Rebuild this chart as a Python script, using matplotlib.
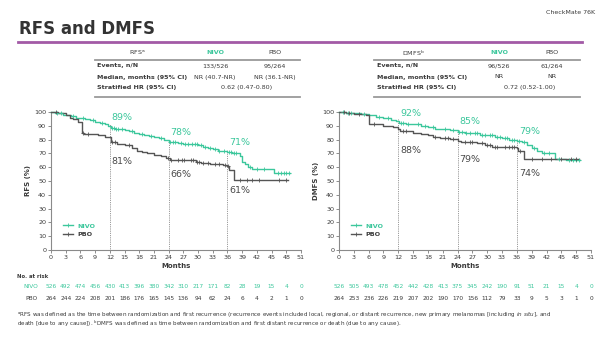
import numpy as np
import matplotlib
matplotlib.use("Agg")
import matplotlib.pyplot as plt
from matplotlib.lines import Line2D
from matplotlib.transforms import blended_transform_factory

plt.rcParams['font.family'] = ['DejaVu Sans']

GREEN = '#3cc79c'
GRAY = '#555555'
TXT = '#3a3a3a'

# ---------------- data ----------------
months = list(range(0, 52, 3))

rfs_nivo_t = [0, 0.8, 1.5, 2.5, 3.2, 4.0, 5.0, 6.0, 7.0, 8.0, 9.0, 10.0, 11.0, 11.6, 12.2, 13.0, 14.0,
              15.0, 16.0, 17.0, 18.0, 19.0, 20.0, 21.0, 22.0, 23.0, 24.0, 25.0, 26.0, 27.0, 28.5, 30.0,
              31.0, 32.0, 33.0, 34.0, 35.0, 36.0, 37.0, 38.5, 39.0, 39.5, 40.2, 41.0, 45.5, 48.8]
rfs_nivo_s = [100, 99.5, 99, 98, 97.5, 97, 96, 95.5, 95, 94, 93, 92, 91, 90, 88.5, 88, 87.5,
              87, 86, 85, 84, 83, 82.5, 82, 81, 80, 78.5, 78, 77.5, 77, 76.5, 76,
              75, 74, 73, 72, 71.5, 71, 70, 68, 64, 62, 60, 59, 55.5, 55.5]
rfs_nivo_c = [1.2, 2.0, 4.5, 6.5, 8.5, 10.5, 12.4, 12.8, 13.2, 13.6, 14.5, 16.5, 18.5, 20.5, 22.5, 24.3,
              24.8, 25.3, 26.5, 27.3, 28.0, 28.8, 29.3, 29.8, 30.5, 31.5, 32.5, 33.5, 34.3, 35.3, 36.3,
              36.8, 37.3, 37.8, 40.5, 42.0, 43.5, 46.3, 47.0, 47.5, 48.0, 48.5]

rfs_pbo_t = [0, 1.5, 3.0, 3.8, 4.5, 5.5, 6.3, 6.8, 9.5, 11.0, 12.2, 13.5, 15.0, 16.5, 17.5, 18.5, 19.5,
             21.0, 22.5, 23.5, 24.2, 27.5, 29.5, 30.5, 32.5, 35.0, 36.0, 36.4, 37.4, 48.4]
rfs_pbo_s = [100, 99, 98, 96, 95, 93, 85, 84, 83, 82, 78, 77, 76, 74, 72, 71, 70,
             69, 68, 67, 65.5, 65, 64, 63, 62, 61.5, 61, 58, 51, 51]
rfs_pbo_c = [1.0, 6.6, 7.5, 12.5, 13.0, 16.0, 23.8, 24.4, 26.0, 26.7, 27.2, 28.5, 29.0, 29.8, 30.2,
             31.0, 32.0, 33.5, 34.2, 35.5, 36.2, 38.5, 40.0, 41.0, 42.5, 46.5, 48.0]

dmfs_nivo_t = [0, 1.5, 3.0, 4.5, 6.0, 7.5, 9.0, 10.5, 11.5, 12.2, 13.5, 15.0, 16.5, 18.0, 19.5, 21.0,
               22.5, 24.0, 25.5, 27.0, 28.5, 30.0, 31.5, 33.0, 34.5, 36.0, 37.0, 38.0, 39.0, 40.0,
               41.0, 43.7, 46.0, 48.8]
dmfs_nivo_s = [100, 99.5, 99, 98.5, 97.5, 96.5, 95.5, 94.5, 93.5, 92, 91.5, 91, 90, 89, 88, 87.5,
               87, 85.5, 85, 84.5, 83.5, 83, 82, 81, 80, 79, 78, 76, 74, 72,
               70, 66, 65, 65]
dmfs_nivo_c = [0.8, 1.8, 2.5, 5.0, 8.0, 10.0, 12.6, 13.0, 14.0, 16.0, 17.5, 19.0, 21.5, 23.0, 24.3,
               24.8, 25.8, 26.5, 27.5, 28.0, 29.0, 29.5, 30.5, 31.0, 32.0, 32.5, 33.5, 34.0, 35.0,
               35.5, 36.5, 37.5, 39.5, 41.5, 42.5, 44.5, 46.5, 47.3, 48.0, 48.5]

dmfs_pbo_t = [0, 1.5, 3.0, 5.5, 6.0, 9.0, 11.0, 12.0, 12.4, 15.0, 16.5, 18.0, 19.0, 20.5, 22.5,
              24.0, 24.6, 28.0, 29.5, 31.0, 33.0, 36.0, 36.3, 37.4, 48.6]
dmfs_pbo_s = [100, 99.5, 98.5, 98, 91, 90, 89, 88, 86, 85, 84, 83, 82, 81, 80.5,
              79, 78, 77.5, 76, 75, 74.5, 74, 72, 66, 66]
dmfs_pbo_c = [1.0, 2.0, 4.0, 7.0, 13.0, 13.6, 19.5, 21.5, 22.0, 23.0, 25.5, 26.5, 27.0, 29.0, 30.0,
              30.6, 31.5, 32.0, 33.5, 34.5, 35.0, 35.5, 36.6, 39.0, 41.0, 43.0, 45.0, 47.0, 48.0]

rfs_risk_nivo = [526, 492, 474, 456, 430, 413, 396, 380, 342, 310, 217, 171, 82, 28, 19, 15, 4, 0]
rfs_risk_pbo = [264, 244, 224, 208, 201, 186, 176, 165, 145, 136, 94, 62, 24, 6, 4, 2, 1, 0]
dmfs_risk_nivo = [526, 505, 493, 478, 452, 442, 428, 413, 375, 345, 242, 190, 91, 51, 21, 15, 4, 0]
dmfs_risk_pbo = [264, 253, 236, 226, 219, 207, 202, 190, 170, 156, 112, 79, 33, 9, 5, 3, 1, 0]

landmarks = [12, 24, 36]
rfs_nivo_lm = ['89%', '78%', '71%']
rfs_pbo_lm = ['81%', '66%', '61%']
dmfs_nivo_lm = ['92%', '85%', '79%']
dmfs_pbo_lm = ['88%', '79%', '74%']
rfs_nivo_lm_y = [96, 85, 78]
rfs_pbo_lm_y = [64, 55, 43]
dmfs_nivo_lm_y = [99, 93, 86]
dmfs_pbo_lm_y = [72, 65.5, 55.5]

rfs_table = [["Events, n/N", "133/526", "95/264"],
             ["Median, months (95% CI)", "NR (40.7-NR)", "NR (36.1-NR)"],
             ["Stratified HR (95% CI)", "0.62 (0.47-0.80)"]]
dmfs_table = [["Events, n/N", "96/526", "61/264"],
              ["Median, months (95% CI)", "NR", "NR"],
              ["Stratified HR (95% CI)", "0.72 (0.52-1.00)"]]

# ---------------- figure ----------------
fig = plt.figure(figsize=(6.0, 3.38), dpi=100)
W, H = 600.0, 338.0


def fx(px):
    return px / W


def fy(py):
    return 1 - py / H


fig.text(fx(595), fy(12), "CheckMate 76K", ha='right', va='center', fontsize=4.5, color=TXT)
fig.text(fx(19), fy(29), "RFS and DMFS", ha='left', va='center', fontsize=12, color='#333333',
         fontweight='semibold')
fig.add_artist(Line2D([fx(18), fx(582)], [fy(42), fy(42)], color='#a25aa6', lw=2))


def draw_table(x0, x1, xhead, xlab, xn, xp, xhr, header, rows):
    fs = 4.6
    fig.text(fx(xhead), fy(53), header, ha='center', va='center', fontsize=fs, color=TXT)
    fig.text(fx(xn), fy(53), "NIVO", ha='center', va='center', fontsize=fs, color=GREEN, fontweight='bold')
    fig.text(fx(xp), fy(53), "PBO", ha='center', va='center', fontsize=fs, color=TXT)
    fig.add_artist(Line2D([fx(x0), fx(x1)], [fy(60), fy(60)], color='#9a9a9a', lw=1.3))
    fig.add_artist(Line2D([fx(x0), fx(x1)], [fy(97), fy(97)], color='#9a9a9a', lw=1.3))
    for i, row in enumerate(rows):
        yy = fy(66 + i * 11)
        fig.text(fx(xlab), yy, row[0], ha='left', va='center', fontsize=fs, color=TXT, fontweight='bold')
        if len(row) == 3:
            fig.text(fx(xn), yy, row[1], ha='center', va='center', fontsize=fs, color=TXT)
            fig.text(fx(xp), yy, row[2], ha='center', va='center', fontsize=fs, color=TXT)
        else:
            fig.text(fx(xhr), yy, row[1], ha='center', va='center', fontsize=fs, color=TXT)


draw_table(95, 300, 137, 97, 215, 275, 247, "RFS$^{\\mathregular{a}}$", rfs_table)
draw_table(374, 580, 413, 377, 499, 552, 530, "DMFS$^{\\mathregular{b}}$", dmfs_table)


def km(ax, t, s, c, color):
    t = np.asarray(t)
    s = np.asarray(s)
    ax.step(t, s, where='post', color=color, lw=1.0, clip_on=False, zorder=3)
    c = np.asarray(c)
    idx = np.searchsorted(t, c, side='right') - 1
    ax.plot(c, s[idx], ls='none', marker='+', ms=2.6, mew=0.6, color=color, clip_on=False, zorder=4)


def panel(rect, ylabel, nivo, pbo, nlm, plm, nlm_y, plm_y, risk_n, risk_p, row_labels):
    ax = fig.add_axes(rect)
    km(ax, *nivo, GREEN)
    km(ax, *pbo, GRAY)
    ax.set_xlim(0, 51)
    ax.set_ylim(0, 100)
    ax.set_xticks(months)
    ax.set_yticks(range(0, 101, 10))
    ax.tick_params(labelsize=4.6, length=2, width=0.6, colors='#7a7a7a', labelcolor=TXT, pad=1.5)
    for sp in ['top', 'right']:
        ax.spines[sp].set_visible(False)
    for sp in ['left', 'bottom']:
        ax.spines[sp].set_color('#8a8a8a')
        ax.spines[sp].set_linewidth(0.8)
    ax.set_xlabel("Months", fontsize=5, fontweight='bold', color=TXT, labelpad=2)
    ax.set_ylabel(ylabel, fontsize=5, fontweight='bold', color=TXT, labelpad=2)
    nt, ns = np.asarray(nivo[0]), np.asarray(nivo[1])
    for i, m in enumerate(landmarks):
        top = ns[np.searchsorted(nt, m, side='right') - 1] + 1.5
        ax.plot([m, m], [0, top], ls=(0, (1, 1.2)), color='#777777', lw=0.6, zorder=2)
        ax.text(m + 0.4, nlm_y[i], nlm[i], color=GREEN, fontsize=6.8, ha='left', va='center')
        ax.text(m + 0.4, plm_y[i], plm[i], color='#4a4a4a', fontsize=6.8, ha='left', va='center')
    handles = [Line2D([], [], color=GREEN, lw=1.0, marker='+', ms=2.6, mew=0.6),
               Line2D([], [], color=GRAY, lw=1.0, marker='+', ms=2.6, mew=0.6)]
    leg = ax.legend(handles, ["NIVO", "PBO"], loc='lower left', bbox_to_anchor=(0.03, 0.06),
                    frameon=False, fontsize=4.6, handlelength=1.6, handletextpad=0.6, labelspacing=0.5,
                    borderpad=0.2)
    for txt, col in zip(leg.get_texts(), [GREEN, TXT]):
        txt.set_color(col)
        txt.set_fontweight('bold')
    tr = blended_transform_factory(ax.transData, fig.transFigure)
    for m, n, p in zip(months, risk_n, risk_p):
        ax.text(m, fy(287), str(n), transform=tr, ha='center', va='center', fontsize=4.2, color=GREEN,
                clip_on=False)
        ax.text(m, fy(298), str(p), transform=tr, ha='center', va='center', fontsize=4.2, color=TXT,
                clip_on=False)
    if row_labels:
        fig.text(fx(38), fy(287), "NIVO", ha='right', va='center', fontsize=4.2, color=GREEN)
        fig.text(fx(38), fy(298), "PBO", ha='right', va='center', fontsize=4.2, color=TXT)
    return ax


ax1 = panel([fx(51), fy(250), fx(301) - fx(51), fy(112) - fy(250)], "RFS (%)",
            (rfs_nivo_t, rfs_nivo_s, rfs_nivo_c), (rfs_pbo_t, rfs_pbo_s, rfs_pbo_c),
            rfs_nivo_lm, rfs_pbo_lm, rfs_nivo_lm_y, rfs_pbo_lm_y, rfs_risk_nivo, rfs_risk_pbo, True)
ax2 = panel([fx(339), fy(250), fx(591) - fx(339), fy(112) - fy(250)], "DMFS (%)",
            (dmfs_nivo_t, dmfs_nivo_s, dmfs_nivo_c), (dmfs_pbo_t, dmfs_pbo_s, dmfs_pbo_c),
            dmfs_nivo_lm, dmfs_pbo_lm, dmfs_nivo_lm_y, dmfs_pbo_lm_y, dmfs_risk_nivo, dmfs_risk_pbo, False)

fig.text(fx(17), fy(277), "No. at risk", ha='left', va='center', fontsize=3.8, color=TXT, fontweight='bold')

fig.text(fx(17), fy(315),
         "$^{\\mathregular{a}}$RFS was defined as the time between randomization and first recurrence (recurrence events "
         "included local, regional, or distant recurrence, new primary melanomas [including $\\mathregular{\\it{in\\ situ}}$], and",
         ha='left', va='center', fontsize=4.05, color=TXT)
fig.text(fx(17), fy(323.5),
         "death [due to any cause]). $^{\\mathregular{b}}$DMFS was defined as time between randomization and first distant "
         "recurrence or death (due to any cause).",
         ha='left', va='center', fontsize=4.05, color=TXT)

fig.savefig("out.png", dpi=100, facecolor='white')
